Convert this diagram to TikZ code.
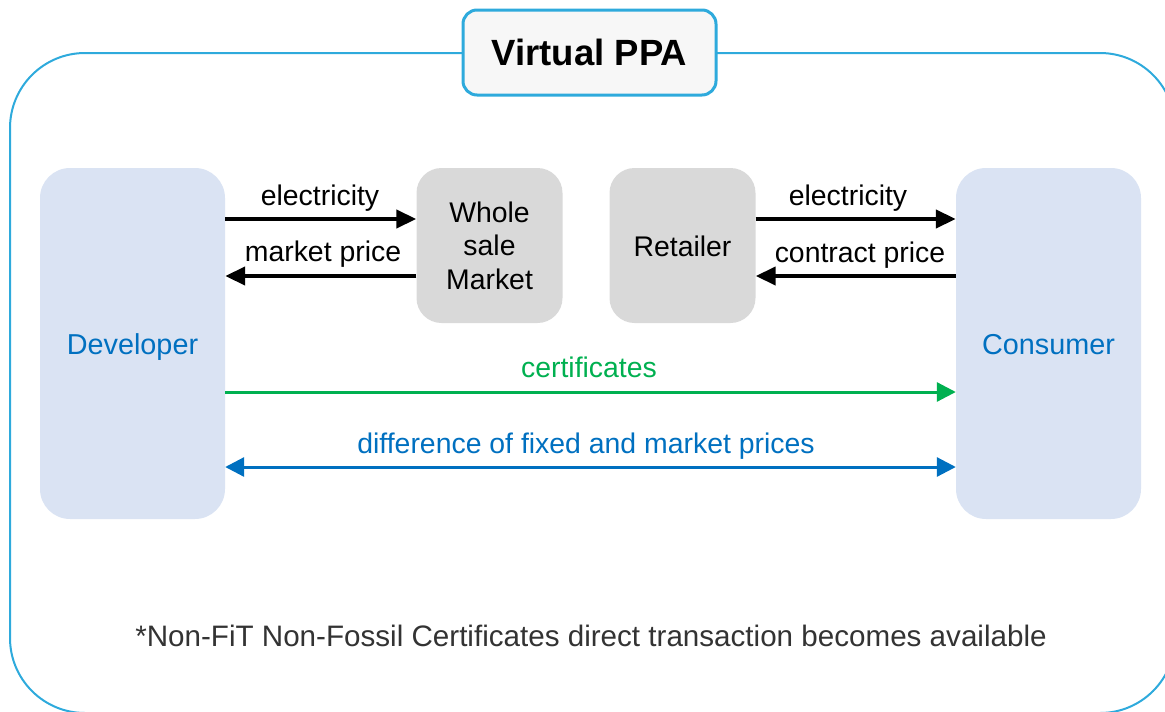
\documentclass[tikz,border=0pt]{standalone}
\usepackage{fontspec}
\setmainfont{Liberation Sans}
\usetikzlibrary{arrows.meta,calc}
\definecolor{frame}{HTML}{2EAADC}
\definecolor{titlefill}{HTML}{F7F7F7}
\definecolor{partyfill}{HTML}{DAE3F3}
\definecolor{marketfill}{HTML}{D9D9D9}
\definecolor{partytext}{HTML}{0070C0}
\definecolor{certgreen}{HTML}{00B050}
\definecolor{diffblue}{HTML}{0070C0}
\definecolor{notegray}{HTML}{333333}
\tikzset{
  party/.style={fill=partyfill, draw=none, rounded corners=30pt, minimum width=185pt, minimum height=351pt, inner sep=0pt},
  mkt/.style={fill=marketfill, draw=none, rounded corners=25pt, minimum width=146pt, minimum height=155pt, inner sep=0pt},
  lbl/.style={font=\fontsize{28.4}{33.5}\selectfont, anchor=base, inner sep=0pt},
  partylbl/.style={font=\fontsize{28.8}{33.5}\selectfont, anchor=base, inner sep=0pt, partytext},
  blackarr/.style={line width=4pt, -{Triangle[length=20pt,width=18pt]}},
  certarr/.style={line width=3pt, certgreen, -{Triangle[length=19pt,width=19pt]}},
  diffarr/.style={line width=3pt, diffblue, {Triangle[length=19pt,width=19pt]}-{Triangle[length=19pt,width=19pt]}},
}
\begin{document}
\begin{tikzpicture}[x=1pt,y=-1pt]
\useasboundingbox (0,0) rectangle (1165,712);
\clip (0,0) rectangle (1165,712);
% outer frame
\draw[frame, line width=2pt, rounded corners=75pt] (10,53) rectangle (1175,713);
% title
\node[draw=frame, line width=3pt, fill=titlefill, rounded corners=14pt, minimum width=253pt, minimum height=85pt, inner sep=0pt] (title) at (589.5,52.5) {};
\node[font=\fontsize{36.5}{40}\selectfont\bfseries, anchor=base, inner sep=0pt] (titletext) at (589.5,65.5) {Virtual PPA};
% boxes
\node[party] (dev) at (132.5,343.5) {};
\node[party] (con) at (1048.5,343.5) {};
\node[mkt] (ws) at (489.5,245.5) {};
\node[mkt] (ret) at (682.5,245.5) {};
% box texts
\node[partylbl] (devt) at (132.5,354) {Developer};
\node[partylbl] (cont) at (1048.5,354) {Consumer};
\node[lbl, align=center] (wst) at (489.5,289) {Whole\\sale\\Market};
\node[lbl] (rett) at (682.5,256) {Retailer};
% row coordinates
\coordinate (r1) at (0,219);
\coordinate (r2) at (0,276);
\coordinate (r3) at (0,392);
\coordinate (r4) at (0,467);
% arrows
\draw[blackarr] (dev.east |- r1) -- (ws.west |- r1);
\draw[blackarr] (ws.west |- r2) -- (dev.east |- r2);
\draw[blackarr] (ret.east |- r1) -- (con.west |- r1);
\draw[blackarr] (con.west |- r2) -- (ret.east |- r2);
\draw[certarr] (dev.east |- r3) -- (con.west |- r3);
\draw[diffarr] (dev.east |- r4) -- (con.west |- r4);
% labels
\node[lbl] (l1) at (320,205) {electricity};
\node[lbl] (l2) at (323,261) {market price};
\node[lbl] (l3) at (848,205) {electricity};
\node[lbl] (l4) at (860,262) {contract price};
\node[lbl, certgreen] (l5) at (589,377) {certificates};
\node[lbl, diffblue] (l6) at (586,453) {difference of fixed and market prices};
\node[font=\fontsize{29.6}{34}\selectfont, notegray, anchor=base, inner sep=0pt] (note) at (591,646) {*Non-FiT Non-Fossil Certificates direct transaction becomes available};
\end{tikzpicture}
\end{document}
